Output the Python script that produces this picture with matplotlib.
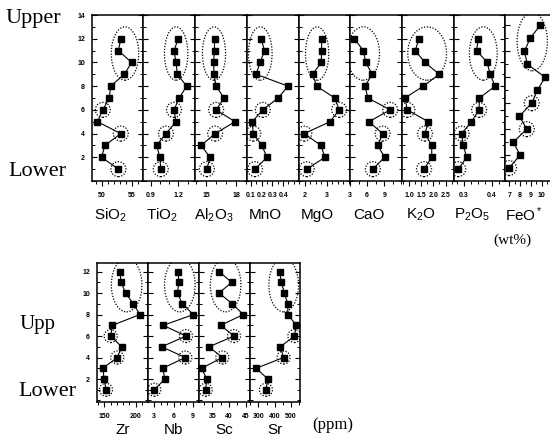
import numpy as np
import matplotlib.pyplot as plt
from matplotlib.patches import Ellipse
from matplotlib.ticker import MultipleLocator, FixedLocator, NullFormatter

plt.rcParams['font.family'] = ['Liberation Sans', 'DejaVu Sans']
plt.rcParams['mathtext.fontset'] = 'custom'
plt.rcParams['mathtext.rm'] = 'Liberation Sans'
plt.rcParams['mathtext.it'] = 'Liberation Sans'

# sample number, 1 = lower ... 12 = upper
samples = np.arange(1, 13)
upper_group = [9, 10, 11, 12]
single_marks = [1, 4, 6]

# major oxides (wt%)
SiO2 = [52.8, 50.0, 50.55, 53.2, 49.3, 50.2, 51.3, 51.5, 53.8, 55.0, 52.8, 53.2]
TiO2 = [1.01, 1.0, 0.965, 1.066, 1.175, 1.153, 1.21, 1.29, 1.19, 1.175, 1.153, 1.2]
Al2O3 = [15.07, 15.4, 14.5, 15.9, 17.9, 16.0, 16.8, 15.98, 15.8, 15.74, 15.84, 15.84]
MnO = [0.138, 0.25, 0.202, 0.122, 0.112, 0.211, 0.354, 0.446, 0.148, 0.186, 0.227, 0.195]
MgO = [2.08, 2.91, 2.73, 1.97, 3.14, 3.56, 3.36, 2.53, 2.35, 2.74, 2.76, 2.76]
CaO = [7.0, 9.05, 7.85, 8.71, 6.31, 10.03, 6.14, 5.62, 6.89, 5.74, 5.35, 3.74]
K2O = [1.61, 1.93, 1.93, 1.65, 1.79, 0.92, 0.82, 1.58, 2.24, 1.65, 1.24, 1.41]
P2O5 = [0.28, 0.31, 0.298, 0.292, 0.327, 0.354, 0.355, 0.411, 0.393, 0.383, 0.345, 0.351]
FeO = [6.97, 7.99, 7.37, 8.61, 7.93, 9.07, 9.59, 10.3, 8.67, 8.39, 8.92, 9.84]

# trace elements (ppm)
Zr = [152.7, 150.0, 147.5, 170.7, 177.6, 160.2, 162.8, 206.8, 196.2, 184.0, 176.6, 175.0]
Nb = [3.0, 4.67, 4.3, 7.85, 4.15, 7.95, 4.4, 9.1, 7.38, 6.6, 6.86, 6.7]
Sc = [33.0, 33.3, 31.8, 38.0, 34.0, 41.5, 37.5, 44.3, 41.0, 37.0, 40.8, 37.0]
Sr = [346, 358, 286, 454, 434, 520, 531, 481, 479, 459, 440, 430]

# name, values, xlim, major ticks, minor step, tick format
top_panels = [
    ('SiO$_2$', SiO2, (48.4, 56.9), [50, 55], 1, '%g'),
    ('TiO$_2$', TiO2, (0.817, 1.381), [0.9, 1.2], 0.1, '%.1f'),
    ('Al$_2$O$_3$', Al2O3, (13.89, 19.04), [15, 18], 1, '%g'),
    ('MnO', MnO, (0.059, 0.548), [0.1, 0.2, 0.3, 0.4], 0.05, '%.1f'),
    ('MgO', MgO, (1.73, 4.05), [2, 3], 0.25, '%g'),
    ('CaO', CaO, (3.0, 12.1), [3, 6, 9], 1.5, '%g'),
    ('K$_2$O', K2O, (0.70, 2.85), [1.0, 1.5, 2.0, 2.5], 0.25, '%.1f'),
    ('P$_2$O$_5$', P2O5, (0.265, 0.446), [0.3, 0.4], 0.025, '%.1f'),
    ('FeO$^*$', FeO, (6.6, 11.4), [7, 8, 9, 10], 0.5, '%g'),
]
bottom_panels = [
    ('Zr', Zr, (138.4, 219.6), [150, 200], 10, '%g'),
    ('Nb', Nb, (2.02, 9.98), [3, 6, 9], 1, '%g'),
    ('Sc', Sc, (31.0, 46.3), [35, 40, 45], 2.5, '%g'),
    ('Sr', Sr, (248.8, 551), [300, 400, 500], 50, '%g'),
]

W, H = 550, 437
fig = plt.figure(figsize=(W / 100, H / 100), dpi=100)


def add_px_axes(left, top, width, height):
    return fig.add_axes([left / W, 1 - (top + height) / H, width / W, height / H])


def draw_panel(ax, name, vals, xlim, major, minor, fmt, ylim, yticks, first,
               circ, label_dy, label_dx):
    vals = np.asarray(vals, float)
    ax.plot(vals, samples, '-', color='k', lw=0.8, zorder=2)
    ax.plot(vals, samples, 's', color='k', ms=circ[1], zorder=3)
    idx = [s - 1 for s in single_marks]
    ax.scatter(vals[idx], samples[idx], s=circ[0], facecolors='none',
               edgecolors='k', linewidths=0.9, linestyles=(0, (1, 1.3)), zorder=4)
    g = [s - 1 for s in upper_group]
    span = xlim[1] - xlim[0]
    gx = vals[g]
    w = max(gx.max() - gx.min() + 0.28 * span, circ[2] * span)
    ax.add_patch(Ellipse(((gx.max() + gx.min()) / 2, samples[g].mean() + 0.25),
                         w, circ[3], fill=False, ec='k', lw=0.9,
                         ls=(0, (1, 1.3)), zorder=4))
    ax.set_xlim(*xlim)
    ax.set_ylim(*ylim)
    ax.xaxis.set_major_locator(FixedLocator(major))
    ax.xaxis.set_minor_locator(MultipleLocator(minor))
    ax.set_xticklabels([fmt % m for m in major])
    ax.yaxis.set_major_locator(FixedLocator(yticks))
    ax.yaxis.set_minor_locator(MultipleLocator(1))
    if first:
        ax.set_yticklabels([str(t) for t in yticks])
    else:
        ax.yaxis.set_major_formatter(NullFormatter())
    ax.tick_params(axis='x', which='both', direction='out', top=False,
                   labelsize=5, pad=4.5)
    ax.tick_params(axis='x', which='major', length=3.5, width=0.8)
    ax.tick_params(axis='x', which='minor', length=2, width=0.7)
    ax.tick_params(axis='y', which='both', direction='in', left=True, right=True,
                   labelsize=5, pad=5)
    ax.tick_params(axis='y', which='major', length=3.5, width=0.8)
    ax.tick_params(axis='y', which='minor', length=2, width=0.7)
    for lab in ax.get_xticklabels() + ax.get_yticklabels():
        lab.set_fontweight('bold')
    for sp in ax.spines.values():
        sp.set_linewidth(1.1)
    ax.text(0.5 + label_dx, label_dy, name, transform=ax.transAxes,
            ha='center', va='center', fontsize=11)


top_lefts = [92, 143, 195, 246.5, 299, 350, 402, 454, 505]
for i, (name, vals, xlim, major, minor, fmt) in enumerate(top_panels):
    width = (top_lefts[i + 1] if i + 1 < len(top_lefts) else 557) - top_lefts[i]
    ax = add_px_axes(top_lefts[i], 15, width, 166)
    ylim = (0, 12.8) if name.startswith('FeO') else (0, 14)
    draw_panel(ax, name, vals, xlim, major, minor, fmt, ylim,
               list(range(2, 15, 2)), i == 0, (117, 4.7, 0.45, 4.5),
               -34 / 166, -7 / width)

bottom_lefts = [97, 148, 199, 250, 299.5]
for i, (name, vals, xlim, major, minor, fmt) in enumerate(bottom_panels):
    width = bottom_lefts[i + 1] - bottom_lefts[i]
    ax = add_px_axes(bottom_lefts[i], 263, width, 139)
    draw_panel(ax, name, vals, xlim, major, minor, fmt, (-0.14, 12.8),
               list(range(2, 13, 2)), i == 0, (88, 4.1, 0.6, 5.0),
               -28 / 139, 0)

serif = 'Liberation Serif'
fig.text(5 / W, 1 - 18 / H, 'Upper', family=serif, fontsize=16, va='center')
fig.text(8 / W, 1 - 172 / H, 'Lower', family=serif, fontsize=16, va='center')
fig.text(20 / W, 1 - 325 / H, 'Upp', family=serif, fontsize=15, va='center')
fig.text(18 / W, 1 - 392 / H, 'Lower', family=serif, fontsize=16, va='center')
fig.text(512 / W, 1 - 240 / H, '(wt%)', family=serif, fontsize=11,
         ha='center', va='center')
fig.text(333 / W, 1 - 425 / H, '(ppm)', family=serif, fontsize=12,
         ha='center', va='center')

fig.savefig('out.png', dpi=100)
